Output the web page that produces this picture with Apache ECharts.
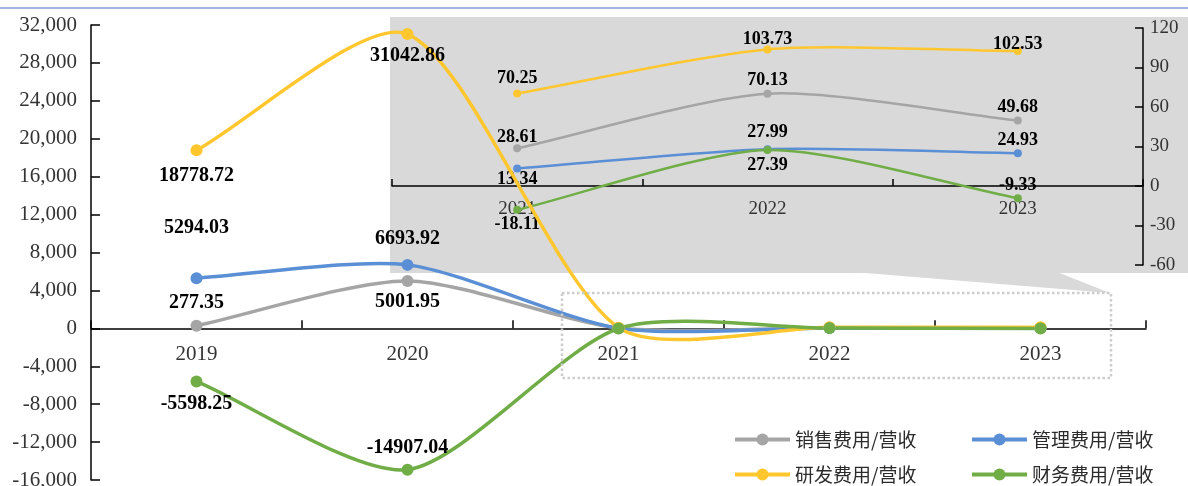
<!DOCTYPE html>
<html>
<head>
<meta charset="utf-8">
<script src="https://cdn.jsdelivr.net/npm/echarts@6/dist/echarts.min.js"></script>
<style>
  html, body { margin: 0; padding: 0; background: #ffffff; }
  #chart { width: 1188px; height: 486px; }
</style>
</head>
<body>
<div id="chart"></div>
<script>
// Categories
const years = ['2019', '2020', '2021', '2022', '2023'];
const insetYears = ['2021', '2022', '2023'];

// Series names
const salesName = '销售费用/营收';
const adminName = '管理费用/营收';
const rdName = '研发费用/营收';
const financeName = '财务费用/营收';

// Expense-to-revenue ratios per year
const salesRatio = [277.35, 5001.95, 28.61, 70.13, 49.68];
const adminRatio = [5294.03, 6693.92, 13.34, 27.99, 24.93];
const rdRatio = [18778.72, 31042.86, 70.25, 103.73, 102.53];
const financeRatio = [-5598.25, -14907.04, -18.11, 27.39, -9.33];

// Axis ranges
const mainAxisRange = { min: -16000, max: 32000, interval: 4000 };
const insetAxisRange = { min: -60, max: 120, interval: 30 };

// Colours
const colors = { sales: '#A5A5A5', admin: '#5A8FD6', rd: '#FFC62E', finance: '#70AD47' };

// Label placement: [position, distance] per point (null = no label)
const mainLabelPlace = {
  sales: [['top', 7], ['bottom', 5]],
  admin: [['top', 34], ['top', 10]],
  rd: [['bottom', 10], ['bottom', 6]],
  finance: [['bottom', 6], ['top', 6]]
};
const insetLabelPlace = {
  sales: [['top', -2], ['top', 0], ['top', 0]],
  admin: [['bottom', -2], ['top', 4], ['top', 0]],
  rd: [['top', 2], ['top', -3], ['top', -6]],
  finance: [['bottom', 1], ['bottom', 2], ['top', 0]]
};

const serif = '"Liberation Serif", "Times New Roman", serif';
const cjk = '"Noto Sans CJK SC", "Noto Sans", sans-serif';

// Plot frames (pixels from the chart edges)
const mainFrame = { left: 91, right: 42, top: 25, bottom: 6 };
const insetFrame = { left: 392, right: 45, top: 28, bottom: 221 };
const CHART_H = 486;

function zeroBottom(frame, range) {
  const h = CHART_H - frame.top - frame.bottom;
  const zeroY = frame.top + h * range.max / (range.max - range.min);
  return CHART_H - zeroY;
}

function withLabels(values, places, fontSize) {
  return values.map(function (v, i) {
    const p = places[i];
    if (!p) return { value: v };
    return {
      value: v,
      label: {
        show: true, position: p[0], distance: p[1],
        fontFamily: serif, fontWeight: 'bold', fontSize: fontSize, color: '#000'
      }
    };
  });
}

// Markers and value labels
function markerSeries(name, values, color, places, axisIdx, size, fontSize, z) {
  return {
    name: name, type: 'line', xAxisIndex: axisIdx, yAxisIndex: axisIdx,
    symbol: 'circle', symbolSize: size, showAllSymbol: true,
    lineStyle: { opacity: 0, width: 3, color: color },
    itemStyle: { color: color },
    data: withLabels(values, places, fontSize),
    z: z
  };
}

// Smoothed curve through the points, control points from neighbouring chords
function curveSeries(name, values, color, width, axisIdx, z) {
  const tension = 0.25;
  return {
    name: name, type: 'custom', coordinateSystem: 'cartesian2d',
    xAxisIndex: axisIdx, yAxisIndex: axisIdx, silent: true, z: z,
    data: values.map(function (v, i) { return [i, v]; }),
    renderItem: function (params, api) {
      if (params.dataIndex !== 0) return null;
      const pts = values.map(function (v, i) { return api.coord([i, v]); });
      const n = pts.length;
      const cps = [];
      for (let i = 0; i < n; i++) {
        const p = pts[i];
        const prev = pts[Math.max(i - 1, 0)];
        const next = pts[Math.min(i + 1, n - 1)];
        const vx = next[0] - prev[0], vy = next[1] - prev[1];
        const lp = Math.hypot(p[0] - prev[0], p[1] - prev[1]);
        const ln = Math.hypot(next[0] - p[0], next[1] - p[1]);
        const r = (lp + ln) > 0 ? ln / (lp + ln) : 0.5;
        cps.push({
          inCp: [p[0] - vx * tension * (1 - r), p[1] - vy * tension * (1 - r)],
          outCp: [p[0] + vx * tension * r, p[1] + vy * tension * r]
        });
      }
      const children = [];
      for (let i = 0; i < n - 1; i++) {
        children.push({
          type: 'bezierCurve',
          shape: {
            x1: pts[i][0], y1: pts[i][1],
            cpx1: cps[i].outCp[0], cpy1: cps[i].outCp[1],
            cpx2: cps[i + 1].inCp[0], cpy2: cps[i + 1].inCp[1],
            x2: pts[i + 1][0], y2: pts[i + 1][1]
          },
          style: { stroke: color, lineWidth: width, fill: null, lineCap: 'round' }
        });
      }
      return { type: 'group', children: children };
    }
  };
}

const axisLineStyle = { color: '#000', width: 1.5 };

const legendBase = {
  orient: 'horizontal', itemWidth: 55, itemHeight: 15, itemGap: 0,
  textStyle: { fontFamily: cjk, fontSize: 19, color: '#2b2b2b' },
  lineStyle: { width: 4, opacity: 1 }
};
function legendAt(name, left, top) {
  return Object.assign({}, legendBase, { left: left, top: top, data: [name] });
}

const chart = echarts.init(document.getElementById('chart'), null, { renderer: 'canvas' });
chart.setOption({
  backgroundColor: '#ffffff',
  animation: false,
  grid: [
    Object.assign({ outerBoundsMode: 'none', containLabel: false }, mainFrame),
    Object.assign({ outerBoundsMode: 'none', containLabel: false }, insetFrame),
    // category axis frames whose lower edge sits on the zero value line
    {
      outerBoundsMode: 'none', containLabel: false,
      left: mainFrame.left, right: mainFrame.right, top: mainFrame.top,
      bottom: zeroBottom(mainFrame, mainAxisRange)
    },
    {
      outerBoundsMode: 'none', containLabel: false,
      left: insetFrame.left, right: insetFrame.right, top: insetFrame.top,
      bottom: zeroBottom(insetFrame, insetAxisRange)
    }
  ],
  xAxis: [
    { type: 'category', gridIndex: 0, data: years, boundaryGap: true, show: false },
    { type: 'category', gridIndex: 1, data: insetYears, boundaryGap: true, show: false },
    {
      type: 'category', gridIndex: 2, data: years, boundaryGap: true, position: 'bottom',
      axisLine: { show: true, onZero: false, lineStyle: axisLineStyle },
      axisTick: { show: true, inside: true, length: 8, lineStyle: axisLineStyle },
      axisLabel: { fontFamily: serif, fontSize: 21, color: '#333', margin: 16 },
      splitLine: { show: false }
    },
    {
      type: 'category', gridIndex: 3, data: insetYears, boundaryGap: true, position: 'bottom',
      axisLine: { show: true, onZero: false, lineStyle: axisLineStyle },
      axisTick: { show: true, inside: true, length: 7, lineStyle: axisLineStyle },
      axisLabel: { fontFamily: serif, fontSize: 19, color: '#333', margin: 14 },
      splitLine: { show: false }
    }
  ],
  yAxis: [
    {
      type: 'value', gridIndex: 0, position: 'left',
      min: mainAxisRange.min, max: mainAxisRange.max, interval: mainAxisRange.interval,
      axisLine: { show: true, onZero: false, lineStyle: axisLineStyle },
      axisTick: { show: true, inside: true, length: 9, lineStyle: axisLineStyle },
      axisLabel: {
        fontFamily: serif, fontSize: 21, color: '#333', margin: 14,
        formatter: function (v) { return v.toLocaleString('en-US'); }
      },
      splitLine: { show: false }
    },
    {
      type: 'value', gridIndex: 1, position: 'right',
      min: insetAxisRange.min, max: insetAxisRange.max, interval: insetAxisRange.interval,
      axisLine: { show: true, onZero: false, lineStyle: axisLineStyle },
      axisTick: { show: true, inside: true, length: 8, lineStyle: axisLineStyle },
      axisLabel: { fontFamily: serif, fontSize: 19, color: '#333', margin: 7 },
      splitLine: { show: false }
    },
    { type: 'value', gridIndex: 2, show: false, min: 0, max: 1 },
    { type: 'value', gridIndex: 3, show: false, min: 0, max: 1 }
  ],
  legend: [
    legendAt(salesName, 728, 425),
    legendAt(adminName, 965, 425),
    legendAt(rdName, 728, 460),
    legendAt(financeName, 965, 460)
  ],
  graphic: [
    {
      type: 'line', z: 1,
      shape: { x1: 0, y1: 8, x2: 1188, y2: 8 },
      style: { stroke: '#7C9DD6', lineWidth: 1.6 }
    },
    {
      type: 'rect', z: -1,
      shape: { x: 390, y: 17, width: 798, height: 256 },
      style: { fill: '#D9D9D9' }
    },
    {
      type: 'polygon', z: -1,
      shape: { points: [[853, 272], [1057, 272], [1110, 293]] },
      style: { fill: '#D9D9D9' }
    },
    {
      type: 'rect', z: 100,
      shape: { x: 562, y: 293, width: 549, height: 85 },
      style: { fill: null, stroke: '#CCCCCC', lineWidth: 2.5, lineDash: [2.5, 2.5] }
    }
  ],
  series: [
    // marker series first so the legend icons take their line/circle look
    markerSeries(salesName, salesRatio, colors.sales, mainLabelPlace.sales, 0, 12, 20, 6),
    markerSeries(adminName, adminRatio, colors.admin, mainLabelPlace.admin, 0, 12, 20, 6),
    markerSeries(rdName, rdRatio, colors.rd, mainLabelPlace.rd, 0, 12, 20, 6),
    markerSeries(financeName, financeRatio, colors.finance, mainLabelPlace.finance, 0, 12, 20, 6),
    markerSeries(salesName, salesRatio.slice(2), colors.sales, insetLabelPlace.sales, 1, 8, 18, 4),
    markerSeries(adminName, adminRatio.slice(2), colors.admin, insetLabelPlace.admin, 1, 8, 18, 4),
    markerSeries(rdName, rdRatio.slice(2), colors.rd, insetLabelPlace.rd, 1, 8, 18, 4),
    markerSeries(financeName, financeRatio.slice(2), colors.finance, insetLabelPlace.finance, 1, 8, 18, 4),
    curveSeries(salesName, salesRatio.slice(2), colors.sales, 2.5, 1, 3),
    curveSeries(adminName, adminRatio.slice(2), colors.admin, 2.5, 1, 3),
    curveSeries(rdName, rdRatio.slice(2), colors.rd, 2.5, 1, 3),
    curveSeries(financeName, financeRatio.slice(2), colors.finance, 2.5, 1, 3),
    curveSeries(salesName, salesRatio, colors.sales, 3.5, 0, 5),
    curveSeries(adminName, adminRatio, colors.admin, 3.5, 0, 5),
    curveSeries(rdName, rdRatio, colors.rd, 3.5, 0, 5),
    curveSeries(financeName, financeRatio, colors.finance, 3.5, 0, 5)
  ]
});
</script>
</body>
</html>
